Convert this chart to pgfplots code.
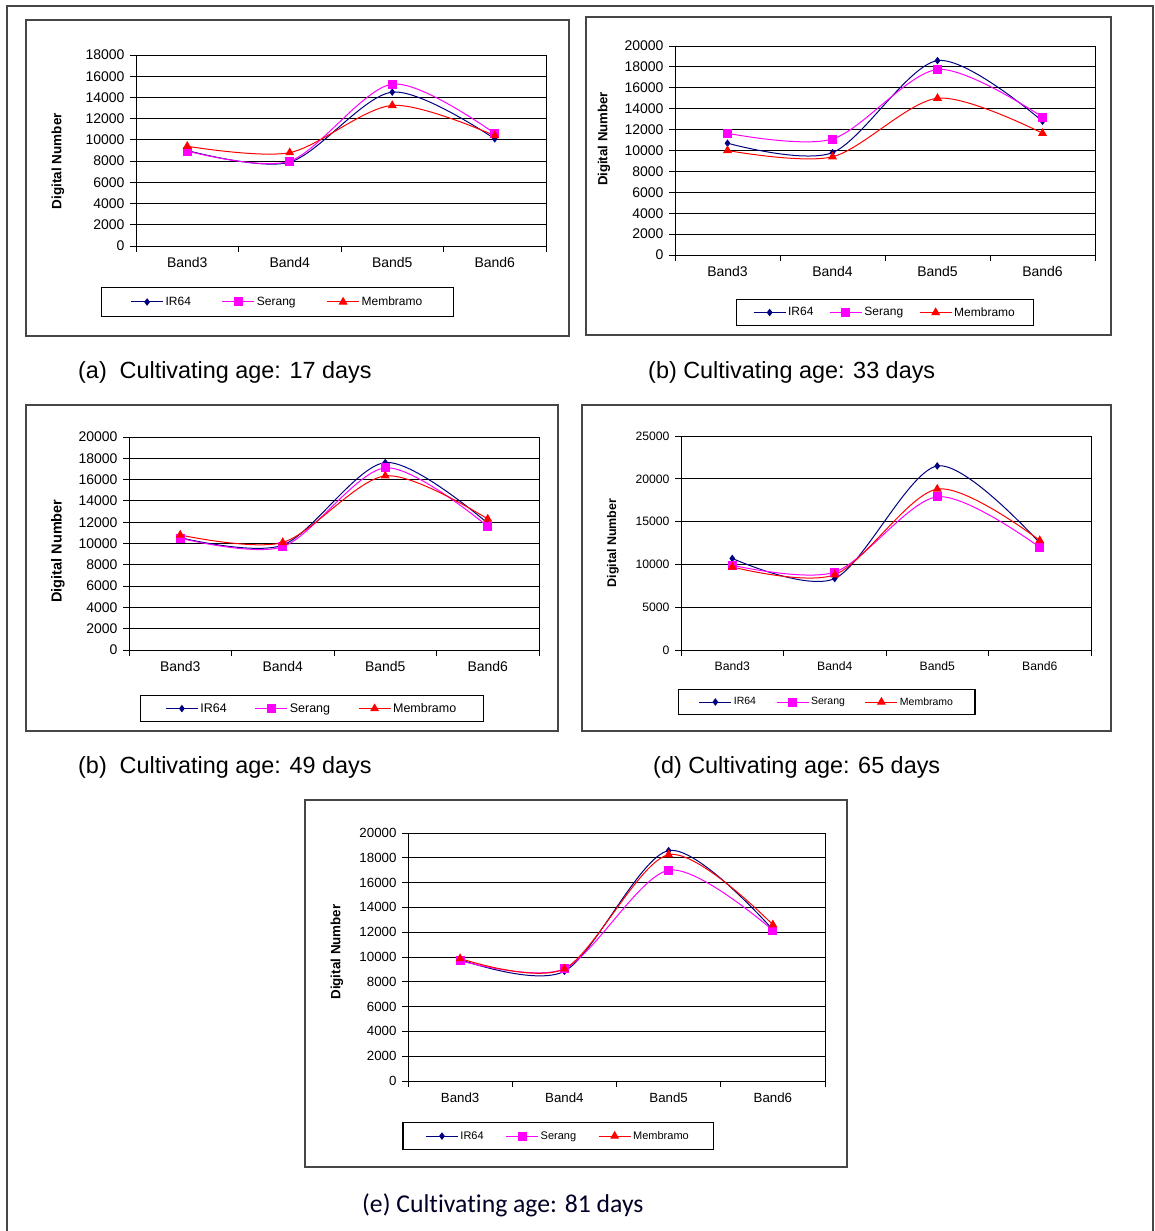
\documentclass[border=0pt]{standalone}
\usepackage{fontspec}
\setmainfont{Liberation Sans}
\newfontfamily\calib[Ligatures={NoCommon}]{Carlito}
\usepackage{pgfplots}
\usepackage{pgfplotstable}
\pgfplotsset{compat=1.18}

\definecolor{irc}{RGB}{0,0,128}
\definecolor{src}{RGB}{255,0,255}
\definecolor{mbc}{RGB}{255,0,0}
\definecolor{frm}{RGB}{70,70,70}

\pgfplotstableread{
x IR64 Serang Membramo
0 9000 8950 9400
1 7900 8000 8800
2 14500 15250 13250
3 10100 10600 10400
}\dataA
\pgfplotstableread{
x IR64 Serang Membramo
0 10700 11650 10000
1 9800 11100 9400
2 18600 17750 15000
3 12800 13200 11650
}\dataB
\pgfplotstableread{
x IR64 Serang Membramo
0 10550 10500 10800
1 9850 9700 10100
2 17600 17100 16350
3 11900 11600 12300
}\dataC
\pgfplotstableread{
x IR64 Serang Membramo
0 10700 9900 9700
1 8350 9100 8800
2 21500 17900 18800
3 12500 12000 12800
}\dataD
\pgfplotstableread{
x IR64 Serang Membramo
0 9800 9700 9880
1 8850 9050 9050
2 18580 17000 18250
3 12200 12150 12600
}\dataE

\tikzset{captxt/.style={anchor=west, inner sep=0pt, font=\fontsize{23.4}{26}\selectfont}}

\pgfplotsset{
  dn/.style={
    scale only axis,
    anchor=south west,
    xmin=-0.5, xmax=3.5,
    xtick={-0.5,0.5,1.5,2.5,3.5}, xticklabels={},
    extra x ticks={0,1,2,3},
    extra x tick labels={Band3,Band4,Band5,Band6},
    extra x tick style={major tick length=0pt, xticklabel style={yshift=-8pt}},
    yticklabel style={xshift=-2pt},
    ymin=0,
    ymajorgrids,
    major grid style={black, line width=0.9pt},
    axis line style={black, line width=0.9pt},
    tick style={black, line width=0.9pt},
    tick align=outside, xtick pos=bottom, ytick pos=left,
    major tick length=6pt,
    scaled y ticks=false,
    /pgf/number format/1000 sep={},
    /pgf/number format/assume math mode=true,
    legend columns=3,
    legend cell align=left,
    legend style={anchor=center, draw=black, line width=1.1pt, fill=white},
    legend image code/.code={\draw[mark repeat=2,mark phase=2,##1] plot coordinates {(0pt,0pt) (16pt,0pt) (32pt,0pt)};},
  },
  ir/.style={color=irc, line width=1pt, smooth, mark=diamond*, mark size=3pt},
  se/.style={color=src, line width=1pt, smooth, mark=square*, mark size=4pt},
  mb/.style={color=mbc, line width=1pt, smooth, mark=triangle*, mark size=4.2pt},
}

\newcommand{\series}[1]{%
  \addplot[ir] table[x=x,y=IR64]{#1};
  \addlegendentry{IR64}
  \addplot[se] table[x=x,y=Serang]{#1};
  \addlegendentry{Serang}
  \addplot[mb] table[x=x,y=Membramo]{#1};
  \addlegendentry{Membramo}
}

\begin{document}
\begin{tikzpicture}
\path[use as bounding box] (0pt,0pt) rectangle (1154pt,-1231pt);
% outer page frame
\draw[frm, line width=1.5pt] (7pt,-1231pt) -- (7pt,-6pt) -- (1153pt,-6pt) -- (1153pt,-1231pt);
% panel boxes
\draw[frm, line width=1.3pt] (26pt,-20pt) rectangle (569pt,-336pt);
\draw[frm, line width=1.3pt] (586pt,-17pt) rectangle (1111pt,-335pt);
\draw[frm, line width=1.3pt] (26pt,-405pt) rectangle (558pt,-731pt);
\draw[frm, line width=1.3pt] (582pt,-405pt) rectangle (1111pt,-731pt);
\draw[frm, line width=1.3pt] (305pt,-800pt) rectangle (847pt,-1167pt);

% (a)
\begin{axis}[dn, at={(136pt,-246pt)}, width=410pt, height=191pt,
  ymax=18000, ytick={0,2000,...,18000},
  tick label style={font=\fontsize{14}{16}\selectfont},
  legend style={at={(0.345,-0.293)}, font=\fontsize{12}{14}\selectfont,
    inner xsep=29pt, inner ysep=7.5pt,
    /tikz/every even column/.append style={column sep=29pt}}]
\series{\dataA}
\end{axis}
\node[rotate=90, font=\bfseries\fontsize{13.5}{15}\selectfont] at (58pt,-161pt) {Digital Number};
\node[captxt] at (78pt,-372pt) {(a)\hspace{0.55em}Cultivating age: 17 days};

% (b) 33 days
\begin{axis}[dn, at={(675pt,-255pt)}, width=420pt, height=209pt,
  ymax=20000, ytick={0,2000,...,20000},
  tick label style={font=\fontsize{14}{16}\selectfont},
  legend style={at={(0.5,-0.275)}, font=\fontsize{12}{14}\selectfont,
    inner xsep=16.5pt, inner ysep=5.5pt,
    /tikz/every even column/.append style={column sep=14pt}}]
\series{\dataB}
\end{axis}
\node[rotate=90, font=\bfseries\fontsize{13.2}{15}\selectfont] at (604pt,-139pt) {Digital Number};
\node[captxt] at (648pt,-372pt) {(b) Cultivating age: 33 days};

% (c) 49 days
\begin{axis}[dn, at={(129pt,-650pt)}, width=410pt, height=213pt,
  ymax=20000, ytick={0,2000,...,20000},
  tick label style={font=\fontsize{14}{16}\selectfont},
  legend style={at={(0.446,-0.275)}, font=\fontsize{12.5}{14}\selectfont,
    inner xsep=25pt, inner ysep=6pt,
    /tikz/every even column/.append style={column sep=26pt}}]
\series{\dataC}
\end{axis}
\node[rotate=90, font=\bfseries\fontsize{14.5}{16}\selectfont] at (58pt,-551pt) {Digital Number};
\node[captxt] at (78pt,-767pt) {(b)\hspace{0.55em}Cultivating age: 49 days};

% (d) 65 days
\begin{axis}[dn, at={(681pt,-650pt)}, width=410pt, height=214pt,
  ymax=25000, ytick={0,5000,...,25000},
  tick label style={font=\fontsize{12.2}{14}\selectfont},
  legend style={at={(0.356,-0.243)}, font=\fontsize{10.5}{12}\selectfont,
    inner xsep=20pt, inner ysep=6pt,
    /tikz/every even column/.append style={column sep=18pt}}]
\series{\dataD}
\end{axis}
\node[rotate=90, font=\bfseries\fontsize{12.5}{14}\selectfont] at (613pt,-543pt) {Digital Number};
\node[captxt] at (653pt,-767pt) {(d) Cultivating age: 65 days};

% (e) 81 days
\begin{axis}[dn, at={(408pt,-1081pt)}, width=417pt, height=248pt,
  ymax=20000, ytick={0,2000,...,20000},
  tick label style={font=\fontsize{13.3}{15}\selectfont},
  legend style={at={(0.36,-0.222)}, font=\fontsize{11}{13}\selectfont,
    inner xsep=22.5pt, inner ysep=6.5pt,
    /tikz/every even column/.append style={column sep=20pt}}]
\series{\dataE}
\end{axis}
\node[rotate=90, font=\bfseries\fontsize{13.4}{15}\selectfont] at (337pt,-952pt) {Digital Number};
\node[anchor=west, inner sep=0pt, font=\calib\fontsize{25.7}{28}\selectfont, text=black!85!blue] at (362pt,-1205pt) {(e) Cultivating age: 81 days};
\end{tikzpicture}
\end{document}
